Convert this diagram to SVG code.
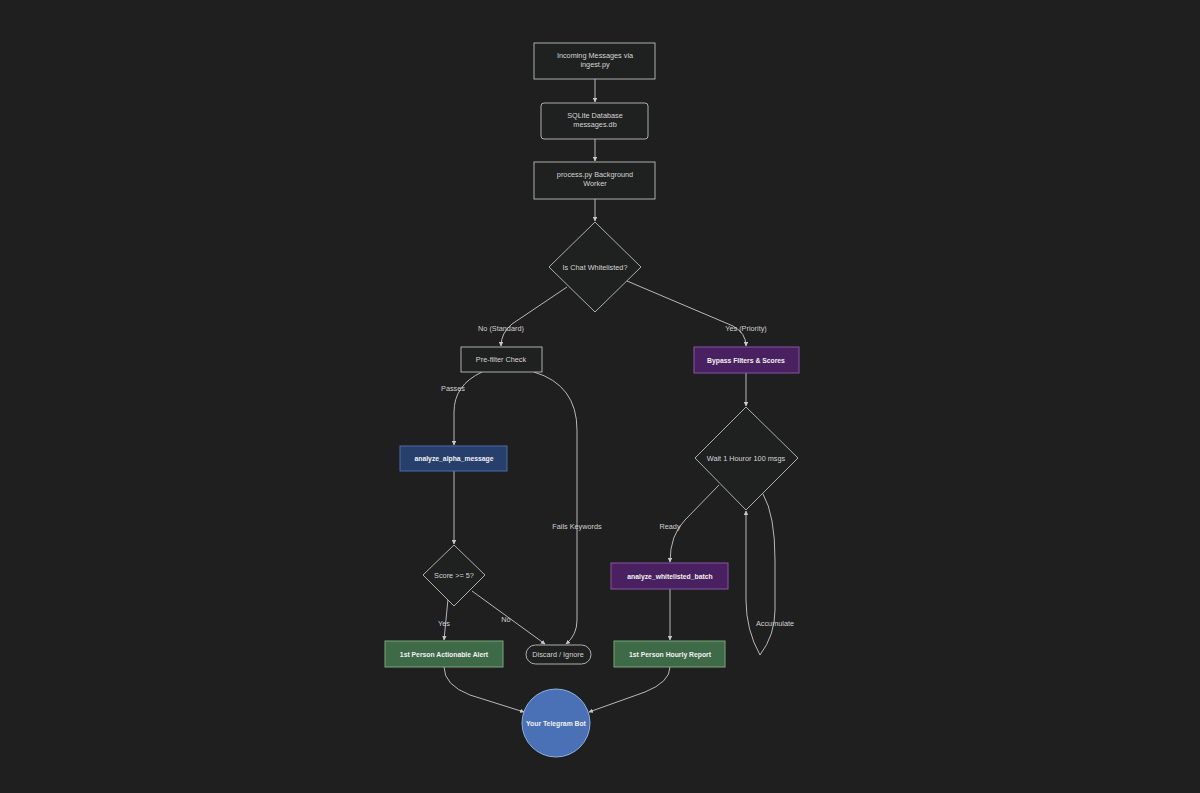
<svg xmlns="http://www.w3.org/2000/svg" width="1200" height="793" viewBox="0 0 1200 793">
<style>
text{font-family:"Liberation Sans",Arial,sans-serif;font-size:7.3px;fill:#d4d4d4;text-anchor:middle;dominant-baseline:central}
.b{font-weight:bold;fill:#f0f0f0;font-size:6.8px}
.n{fill:#1f2020;stroke:#bdbdbd;stroke-width:0.9}
.pu{fill:#4a2160;stroke:#8a52ab;stroke-width:1}
.bl{fill:#263f6c;stroke:#4d6ca8;stroke-width:1}
.gr{fill:#3f6a47;stroke:#7aa57c;stroke-width:1}
.e{fill:none;stroke:#c8c8c8;stroke-width:0.9}
.lbl{fill:#d0d0d0}
</style>
<defs>
<marker id="ah" viewBox="0 0 10 10" refX="9" refY="5" markerWidth="5" markerHeight="5" orient="auto">
<path d="M0,0 L10,5 L0,10 z" fill="#c8c8c8"/>
</marker>
</defs>
<rect width="1200" height="793" fill="#1f1f1f"/>
<g id="connectors">
<path class="e" d="M595,79 L595,102" marker-end="url(#ah)"/>
<path class="e" d="M595,139 L595,161" marker-end="url(#ah)"/>
<path class="e" d="M595,199 L595,221" marker-end="url(#ah)"/>
<path class="e" d="M567,287 L512,324 Q501,333 501,346" marker-end="url(#ah)"/>
<path class="e" d="M627,281 L733,326 Q746,333 746,346" marker-end="url(#ah)"/>
<path class="e" d="M482,372 Q454,385 454,412 L454,445" marker-end="url(#ah)"/>
<path class="e" d="M534,372 Q577,385 577,430 L577,620 Q577,635 566,644" marker-end="url(#ah)"/>
<path class="e" d="M746,373 L746,406" marker-end="url(#ah)"/>
<path class="e" d="M719,485 L685,520 Q670,535 670,562" marker-end="url(#ah)"/>
<path class="e" d="M763,494 Q775,515 775,560 L775,610 Q775,635 760,655 Q746,630 746,600 L746,511" marker-end="url(#ah)"/>
<path class="e" d="M454,471 L454,544" marker-end="url(#ah)"/>
<path class="e" d="M448,599 L444,640" marker-end="url(#ah)"/>
<path class="e" d="M472,591 L545,644" marker-end="url(#ah)"/>
<path class="e" d="M670,589 L670,640" marker-end="url(#ah)"/>
<path class="e" d="M444,667 Q444,685 470,695 L524,712" marker-end="url(#ah)"/>
<path class="e" d="M670,667 Q670,682 645,692 L589,712" marker-end="url(#ah)"/>
<text class="lbl" x="501" y="328">No (Standard)</text>
<text class="lbl" x="746" y="328">Yes (Priority)</text>
<text class="lbl" x="453" y="388">Passes</text>
<text class="lbl" x="577" y="526">Fails Keywords</text>
<text class="lbl" x="670" y="526">Ready</text>
<text class="lbl" x="775" y="623">Accumulate</text>
<text class="lbl" x="444" y="623">Yes</text>
<text class="lbl" x="506" y="619">No</text>
</g>
<g id="ingest"><rect class="n" x="534" y="43" width="121" height="36"/><text x="595" y="55">Incoming Messages via</text><text x="595" y="64">ingest.py</text></g>
<g id="db"><rect class="n" x="541" y="103" width="107" height="36" rx="3"/><text x="595" y="115">SQLite Database</text><text x="595" y="124">messages.db</text></g>
<g id="process"><rect class="n" x="534" y="162" width="121" height="37"/><text x="595" y="174">process.py Background</text><text x="595" y="183">Worker</text></g>
<g id="whitelisted"><polygon class="n" points="595,222 641,267 595,312 549,267"/><text x="595" y="267">Is Chat Whitelisted?</text></g>
<g id="prefilter"><rect class="n" x="461" y="347" width="81" height="25"/><text x="501" y="359.5">Pre-filter Check</text></g>
<g id="bypass"><rect class="pu" x="694" y="347" width="105" height="26"/><text class="b" x="746" y="360">Bypass Filters &amp; Scores</text></g>
<g id="alpha"><rect class="bl" x="400" y="446" width="107" height="25"/><text class="b" x="454" y="458.5">analyze_alpha_message</text></g>
<g id="wait"><polygon class="n" points="746,407 798,458 746,510 695,458"/><text x="746" y="458">Wait 1 Houror 100 msgs</text></g>
<g id="batch"><rect class="pu" x="611" y="563" width="117" height="26"/><text class="b" x="670" y="576">analyze_whitelisted_batch</text></g>
<g id="score"><polygon class="n" points="454,545 485,575 454,606 423,575"/><text x="454" y="575">Score &gt;= 5?</text></g>
<g id="alert"><rect class="gr" x="385" y="641" width="118" height="26"/><text class="b" x="444" y="654">1st Person Actionable Alert</text></g>
<g id="discard"><rect class="n" x="526" y="645" width="65" height="19" rx="9.5"/><text x="558" y="654.5">Discard / Ignore</text></g>
<g id="report"><rect class="gr" x="614" y="641" width="111" height="26"/><text class="b" x="670" y="654">1st Person Hourly Report</text></g>
<g id="bot"><circle cx="556" cy="723" r="34" fill="#4a70b5" stroke="#8cb0e0" stroke-width="1"/><text class="b" x="556" y="723">Your Telegram Bot</text></g>
</svg>
